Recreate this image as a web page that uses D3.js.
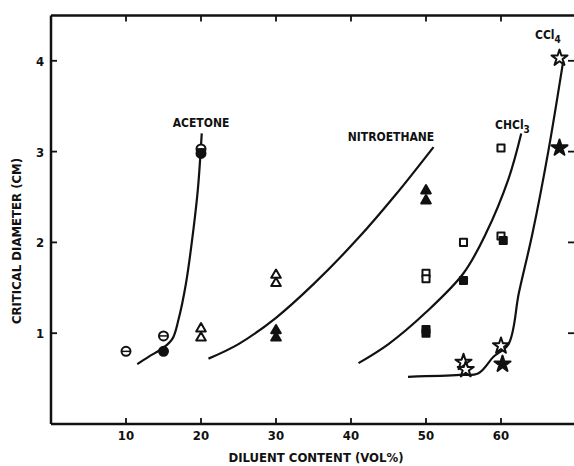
<!DOCTYPE html>
<html>
<head>
<meta charset="utf-8">
<script src="https://cdn.jsdelivr.net/npm/d3@7"></script>
<style>
  body { margin: 0; background: #fff; }
  text { font-family: "Liberation Sans Narrow", "DejaVu Sans Condensed", sans-serif; font-weight: bold; fill: #111; }
</style>
</head>
<body>
<svg id="chart" width="574" height="466"></svg>
<script>
// tick values
const xTicks = [10, 20, 30, 40, 50, 60];
const yTicks = [1, 2, 3, 4];

// fitted curves
const acetoneCurve = [[11.5, 0.66], [13, 0.74], [15, 0.84], [16.2, 0.94], [17, 1.15], [18, 1.55], [19, 2.15], [19.6, 2.6], [20.1, 3.2]];
const nitroCurve = [[21, 0.72], [25, 0.88], [30, 1.17], [35, 1.54], [41, 2.05], [46, 2.53], [51, 3.05]];
const chcl3Curve = [[41, 0.67], [45, 0.88], [50, 1.23], [55, 1.66], [58, 2.1], [61, 2.7], [62.7, 3.2]];
const ccl4Curve = [[47.6, 0.52], [54.5, 0.54], [57, 0.56], [59, 0.74], [61, 0.88], [62.4, 1.45], [64.2, 2.1], [66.3, 3.0], [68.3, 4.0]];

// measured points
const acetoneOpen = [[10, 0.80], [15, 0.97], [20, 3.03]];
const acetoneFilled = [[15, 0.80], [20, 2.98]];
const nitroOpen = [[20, 1.05], [20, 0.95], [30, 1.64], [30, 1.55]];
const nitroFilled = [[30, 1.03], [30, 0.95], [50, 2.57], [50, 2.46]];
const chcl3Open = [[50, 1.66], [50, 1.60], [55, 2.0], [60, 3.04], [60, 2.07]];
const chcl3Filled = [[50, 1.04], [50, 1.0], [55, 1.58], [60.3, 2.02]];
const ccl4Open = [[55, 0.68], [55.3, 0.6], [60, 0.86], [67.8, 4.03]];
const ccl4Filled = [[60.2, 0.66], [67.8, 3.04]];

const svg = d3.select('#chart');
const x = d3.scaleLinear().domain([0, 70]).range([51, 576]);
const y = d3.scaleLinear().domain([0, 4.5]).range([424, 15.4]);

// frame + axes (ticks point inward)
const frame = svg.append('g').attr('stroke', '#111').attr('fill', 'none');
frame.append('line').attr('x1', x(0)).attr('x2', x(70)).attr('y1', y(4.5)).attr('y2', y(4.5)).attr('stroke-width', 2.5);
frame.append('line').attr('x1', x(0)).attr('x2', x(70)).attr('y1', y(0)).attr('y2', y(0)).attr('stroke-width', 2.5);
frame.append('line').attr('x1', x(0)).attr('x2', x(0)).attr('y1', y(0)).attr('y2', y(4.5)).attr('stroke-width', 2.5);

xTicks.forEach(t => {
  frame.append('line').attr('x1', x(t)).attr('x2', x(t)).attr('y1', y(0)).attr('y2', y(0) - 6).attr('stroke-width', 1.8);
  frame.append('line').attr('x1', x(t)).attr('x2', x(t)).attr('y1', y(4.5)).attr('y2', y(4.5) + 6).attr('stroke-width', 1.8);
});
yTicks.forEach(t => {
  frame.append('line').attr('x1', x(0)).attr('x2', x(0) + 6).attr('y1', y(t)).attr('y2', y(t)).attr('stroke-width', 1.8);
  frame.append('line').attr('x1', x(70) - 8).attr('x2', x(70)).attr('y1', y(t)).attr('y2', y(t)).attr('stroke-width', 1.8);
});

svg.append('g').selectAll('text').data(xTicks).enter().append('text')
  .attr('x', d => x(d)).attr('y', 440).attr('text-anchor', 'middle')
  .attr('font-size', 13).text(d => d);
svg.append('g').selectAll('text').data(yTicks).enter().append('text')
  .attr('x', 40).attr('y', d => y(d) + 5).attr('text-anchor', 'middle')
  .attr('font-size', 13).text(d => d);

svg.append('text').attr('x', 316).attr('y', 462).attr('text-anchor', 'middle')
  .attr('font-size', 13).text('DILUENT CONTENT (VOL%)');
svg.append('text').attr('transform', 'translate(21,241) rotate(-90)').attr('text-anchor', 'middle')
  .attr('font-size', 13).text('CRITICAL DIAMETER (CM)');

// curves
const line = d3.line().x(d => x(d[0])).y(d => y(d[1])).curve(d3.curveCatmullRom.alpha(0.5));
[acetoneCurve, nitroCurve, chcl3Curve, ccl4Curve].forEach(c => {
  svg.append('path').datum(c).attr('d', line).attr('fill', 'none')
    .attr('stroke', '#111').attr('stroke-width', 2.2);
});

// markers
function drawMarkers(data, type, filled) {
  const g = svg.append('g');
  data.forEach(d => {
    const cx = x(d[0]), cy = y(d[1]);
    const fill = filled ? '#111' : '#fff';
    if (type === 'circle') {
      g.append('circle').attr('cx', cx).attr('cy', cy).attr('r', 4.5)
        .attr('fill', fill).attr('stroke', '#111').attr('stroke-width', 2);
      if (!filled) g.append('line').attr('x1', cx - 4).attr('x2', cx + 4).attr('y1', cy).attr('y2', cy)
        .attr('stroke', '#111').attr('stroke-width', 1.5);
    } else {
      const sym = type === 'triangle' ? d3.symbolTriangle : type === 'square' ? d3.symbolSquare : d3.symbolStar;
      const size = type === 'triangle' ? 40 : type === 'square' ? 50 : 80;
      g.append('path').attr('d', d3.symbol().type(sym).size(size)())
        .attr('transform', `translate(${cx},${cy})`)
        .attr('fill', fill).attr('stroke', '#111').attr('stroke-width', 2)
        .attr('stroke-linejoin', 'round');
    }
  });
}
drawMarkers(acetoneOpen, 'circle', false);
drawMarkers(acetoneFilled, 'circle', true);
drawMarkers(nitroOpen, 'triangle', false);
drawMarkers(nitroFilled, 'triangle', true);
drawMarkers(chcl3Open, 'square', false);
drawMarkers(chcl3Filled, 'square', true);
drawMarkers(ccl4Open, 'star', false);
drawMarkers(ccl4Filled, 'star', true);

// series labels
svg.append('text').attr('x', 201).attr('y', 127).attr('text-anchor', 'middle').attr('font-size', 12).text('ACETONE');
svg.append('text').attr('x', 391).attr('y', 141).attr('text-anchor', 'middle').attr('font-size', 12).text('NITROETHANE');
const chl = svg.append('text').attr('x', 495).attr('y', 129).attr('font-size', 12);
chl.append('tspan').text('CHCl');
chl.append('tspan').attr('dy', 4).attr('font-size', 10).text('3');
const ccl = svg.append('text').attr('x', 535).attr('y', 39).attr('font-size', 12);
ccl.append('tspan').text('CCl');
ccl.append('tspan').attr('dy', 4).attr('font-size', 10).text('4');
</script>
</body>
</html>
